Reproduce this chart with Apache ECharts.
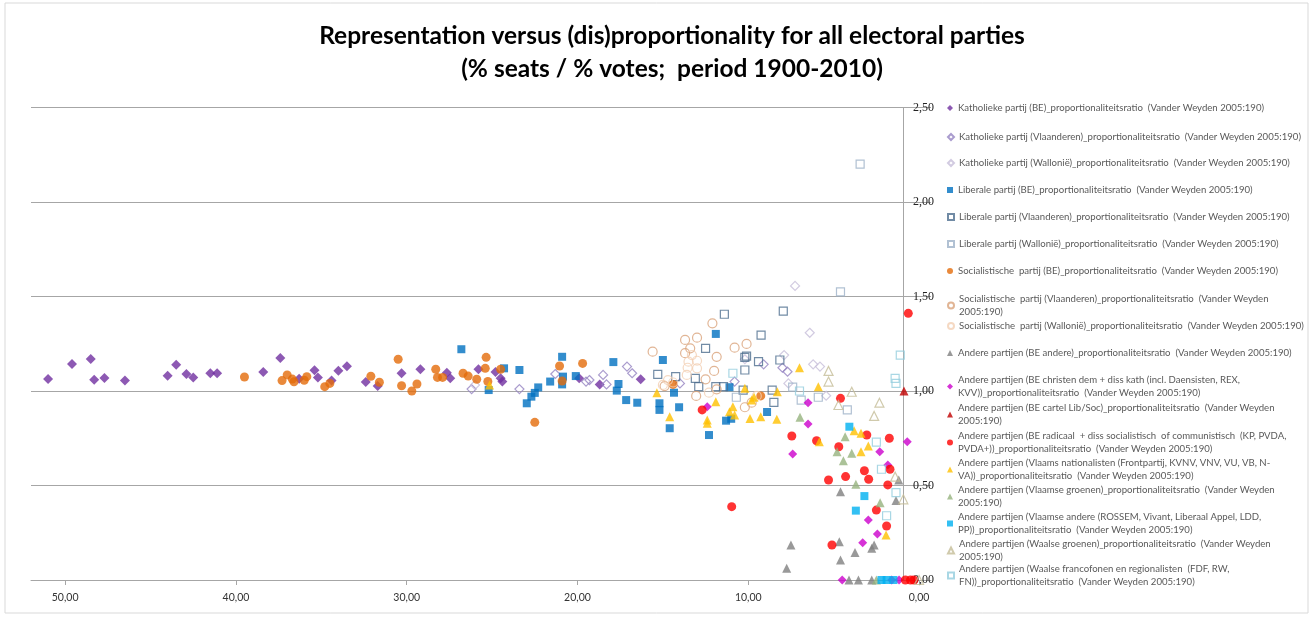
<!DOCTYPE html>
<html>
<head>
<meta charset="utf-8">
<script src="https://cdn.jsdelivr.net/npm/echarts@6/dist/echarts.min.js"></script>
<style>
  html, body { margin: 0; padding: 0; background: #fff; }
  #chart { width: 1314px; height: 617px; }
</style>
</head>
<body>
<div id="chart"></div>
<script>
// x = % votes, y = % seats / % votes
var kathBE = [[51.0,1.064],[49.6,1.143],[48.5,1.169],[48.3,1.060],[47.7,1.069],[46.5,1.056],[44.0,1.081],[43.5,1.139],[42.9,1.090],[42.5,1.072],[41.5,1.094],[41.1,1.094],[38.4,1.100],[37.4,1.175],[36.3,1.065],[35.4,1.110],[35.2,1.072],[34.4,1.056],[34.0,1.107],[33.5,1.131],[32.4,1.048],[31.7,1.026],[30.3,1.094],[29.2,1.115],[27.65,1.097],[27.45,1.067],[25.8,1.115],[24.8,1.100],[24.5,1.067],[24.4,1.050],[19.9,1.067],[18.7,1.035],[16.3,1.062]];
var kathVl = [[26.2,1.010],[23.4,1.010],[21.3,1.090],[19.5,1.050],[19.3,1.058],[18.5,1.085],[18.3,1.035],[17.1,1.129],[16.8,1.094],[14.0,1.040],[10.8,1.050],[9.1,1.141],[8.0,1.123],[7.7,1.102]];
var kathWal = [[26.0,1.032],[10.2,1.168],[7.9,1.190],[7.26,1.556],[6.4,1.308],[6.2,1.141],[5.8,1.129],[5.44,0.975],[7.65,1.040]];
var libBE = [[26.8,1.221],[25.2,1.005],[24.3,1.120],[23.4,1.111],[22.97,0.935],[22.7,0.970],[22.5,0.990],[22.3,1.019],[21.6,1.050],[20.9,1.181],[20.9,1.035],[20.85,1.076],[20.1,1.079],[17.9,1.153],[17.6,1.037],[17.7,1.002],[17.15,0.952],[16.5,0.938],[15.0,1.164],[15.2,0.935],[15.2,0.900],[14.35,0.991],[14.05,0.914],[14.6,0.803],[11.9,1.302],[12.3,0.767],[11.1,1.020],[11.3,0.843],[11.0,0.853],[8.9,0.889]];
var libVl = [[11.4,1.406],[7.95,1.423],[9.25,1.296],[12.5,1.226],[10.2,1.178],[10.1,1.185],[9.4,1.155],[8.15,1.164],[10.2,1.111],[15.3,1.088],[14.25,1.076],[13.1,1.067],[12.9,1.023],[11.9,1.023],[11.45,1.023],[10.3,1.005],[8.6,1.005],[8.5,0.940]];
var libWal = [[3.45,2.20],[4.6,1.525],[7.4,1.020],[6.9,0.952],[5.9,0.967],[4.2,0.900],[10.7,0.967]];
var socBE = [[39.5,1.074],[37.3,1.055],[37.0,1.085],[36.7,1.063],[36.6,1.049],[36.0,1.057],[35.85,1.076],[34.8,1.023],[34.5,1.040],[32.1,1.078],[31.6,1.046],[30.5,1.168],[30.3,1.028],[29.7,1.000],[29.4,1.037],[28.3,1.115],[28.2,1.072],[27.9,1.072],[26.7,1.094],[26.4,1.079],[25.9,1.062],[25.35,1.178],[25.4,1.120],[25.25,1.050],[24.5,1.115],[22.5,0.834],[21.05,1.132],[20.9,1.053],[19.7,1.146],[14.4,1.035],[9.27,0.974]];
var socVl = [[12.1,1.358],[13.7,1.270],[13.0,1.282],[13.4,1.226],[13.7,1.200],[11.85,1.181],[15.6,1.208],[12.0,1.106],[10.8,1.229],[10.1,1.249],[12.5,1.062],[13.05,0.974],[11.85,1.009],[14.9,1.026],[10.2,0.914],[9.8,0.938]];
var socWal = [[13.3,1.190],[13.0,1.160],[13.55,1.123],[13.5,1.155],[13.6,1.085],[12.3,0.991],[14.7,1.058],[9.5,0.974],[15.0,1.032],[13.0,1.120],[14.4,1.045]];
var beAndere = [[7.5,0.185],[7.75,0.062],[4.6,0.467],[4.67,0.203],[4.6,0.106],[3.75,0.145],[2.77,0.168],[2.63,0.185],[1.19,0.529],[1.35,0.420],[4.1,0],[3.55,0],[2.77,0]];
var christenDem = [[6.5,0.938],[6.5,0.825],[0.69,0.732],[12.4,0.917],[7.4,0.667],[2.3,0.679],[1.83,0.608],[2.97,0.317],[2.44,0.243],[3.3,0.197],[4.5,0],[1.17,0],[1.6,0]];
var cartel = [[0.88,1.0]];
var radicaal = [[0.63,1.411],[4.6,0.961],[12.7,0.900],[7.45,0.762],[6.0,0.737],[4.7,0.705],[3.06,0.767],[1.74,0.750],[3.2,0.578],[1.7,0.586],[5.3,0.529],[4.3,0.547],[2.95,0.533],[1.83,0.503],[10.97,0.388],[2.5,0.370],[1.9,0.286],[5.1,0.185],[0.8,0],[0.5,0],[0.3,0]];
var vlNat = [[15.35,0.991],[14.6,0.864],[12.4,0.847],[12.4,0.829],[11.9,0.943],[10.9,0.917],[11.1,0.890],[10.8,0.873],[10.2,1.014],[9.9,0.855],[9.27,0.864],[9.8,0.952],[9.66,0.967],[8.3,0.996],[8.33,0.850],[7.0,1.123],[5.9,1.023],[5.84,0.732],[3.8,0.790],[3.4,0.776],[2.97,0.709],[3.4,0.679],[1.93,0.238],[25.15,1.032]];
var vlGroen = [[6.97,0.861],[4.33,0.758],[4.8,0.679],[4.43,0.631],[3.94,0.670],[3.7,0.506],[2.28,0.409],[2.5,0]];
var vlAndere = [[4.08,0.811],[3.2,0.444],[3.7,0.367],[2.2,0],[1.9,0],[1.5,0]];
var waGroen = [[5.3,1.106],[5.3,1.050],[4.72,0.926],[3.94,0.996],[2.32,0.938],[2.63,0.868],[1.4,0.547],[0.92,0.427],[0.0,0]];
var waFranco = [[1.1,1.190],[1.4,1.067],[1.35,1.040],[2.5,0.730],[2.2,0.586],[1.35,0.462],[1.9,0.340],[10.9,1.094],[7.0,1.000]];

var xTicks = [0, 10, 20, 30, 40, 50];

var names = [
  'Katholieke partij (BE)_proportionaliteitsratio  (Vander Weyden 2005:190)',
  'Katholieke partij (Vlaanderen)_proportionaliteitsratio  (Vander Weyden 2005:190)',
  'Katholieke partij (Wallonië)_proportionaliteitsratio  (Vander Weyden 2005:190)',
  'Liberale partij (BE)_proportionaliteitsratio  (Vander Weyden 2005:190)',
  'Liberale partij (Vlaanderen)_proportionaliteitsratio  (Vander Weyden 2005:190)',
  'Liberale partij (Wallonië)_proportionaliteitsratio  (Vander Weyden 2005:190)',
  'Socialistische  partij (BE)_proportionaliteitsratio  (Vander Weyden 2005:190)',
  'Socialistische  partij (Vlaanderen)_proportionaliteitsratio  (Vander Weyden 2005:190)',
  'Socialistische  partij (Wallonië)_proportionaliteitsratio  (Vander Weyden 2005:190)',
  'Andere partijen (BE andere)_proportionaliteitsratio  (Vander Weyden 2005:190)',
  'Andere partijen (BE christen dem + diss kath (incl. Daensisten, REX, KVV))_proportionaliteitsratio  (Vander Weyden 2005:190)',
  'Andere partijen (BE cartel Lib/Soc)_proportionaliteitsratio  (Vander Weyden 2005:190)',
  'Andere partijen (BE radicaal  + diss socialistisch  of communistisch  (KP, PVDA, PVDA+))_proportionaliteitsratio  (Vander Weyden 2005:190)',
  'Andere partijen (Vlaams nationalisten (Frontpartij, KVNV, VNV, VU, VB, N-VA))_proportionaliteitsratio  (Vander Weyden 2005:190)',
  'Andere partijen (Vlaamse groenen)_proportionaliteitsratio  (Vander Weyden 2005:190)',
  'Andere partijen (Vlaamse andere (ROSSEM, Vivant, Liberaal Appel, LDD, PP))_proportionaliteitsratio  (Vander Weyden 2005:190)',
  'Andere partijen (Waalse groenen)_proportionaliteitsratio  (Vander Weyden 2005:190)',
  'Andere partijen (Waalse francofonen en regionalisten  (FDF, RW, FN))_proportionaliteitsratio  (Vander Weyden 2005:190)'
];

// where each legend entry wraps onto a second line (as in the original)
var wrapBefore = [null, null, null, null, null, null, null, '2005:190)', null, null,
  'KVV))_', '2005:190)', 'PVDA+))_', 'VA))_', '2005:190)', 'PP))_', '2005:190)', 'FN))_'];

var datasets = [kathBE, kathVl, kathWal, libBE, libVl, libWal, socBE, socVl, socWal,
  beAndere, christenDem, cartel, radicaal, vlNat, vlGroen, vlAndere, waGroen, waFranco];

// marker style per series: [symbol, colour, hollow, size]
var markers = [
  ['diamond', '#7030A0', false, 10],
  ['diamond', '#9583C2', true, 9],
  ['diamond', '#C7BEDA', true, 9],
  ['rect', '#0070C0', false, 8],
  ['rect', '#4D6E8E', true, 8],
  ['rect', '#9DB1C8', true, 8],
  ['circle', '#E46C0A', false, 9],
  ['circle', '#D9A27A', true, 9],
  ['circle', '#F2CFB4', true, 9],
  ['triangle', '#7F7F7F', false, 9],
  ['diamond', '#CC00CC', false, 9],
  ['triangle', '#C00000', false, 9],
  ['circle', '#FF0000', false, 9],
  ['triangle', '#FFC000', false, 9],
  ['triangle', '#96B37E', false, 9],
  ['rect', '#00B0F0', false, 8],
  ['triangle', '#C4BD97', true, 9],
  ['rect', '#93CDDD', true, 8]
];

// first line centre of each legend entry
var legendY = [108, 137, 163, 190, 217, 244, 271, 299, 326, 353, 380, 408, 436, 463, 490, 517, 544, 569];

var chart = echarts.init(document.getElementById('chart'));

function comma(v) { return v.toFixed(2).replace('.', ','); }

var series = datasets.map(function (d, i) {
  var m = markers[i];
  return {
    name: names[i],
    type: 'scatter',
    symbol: m[0],
    symbolSize: m[3],
    data: d,
    clip: false,
    itemStyle: m[2]
      ? { color: 'rgba(255,255,255,0)', borderColor: m[1], borderWidth: 1.2 }
      : { color: m[1] }
  };
});

var legends = names.map(function (n, i) {
  var w = wrapBefore[i];
  return {
    data: [n],
    left: 947,
    top: legendY[i] - 6.5,
    orient: 'vertical',
    padding: 0,
    itemWidth: 6,
    itemHeight: 6,
    selectedMode: false,
    formatter: function (name) {
      return w ? name.replace(w, '\n' + w) : name;
    },
    textStyle: {
      fontFamily: 'Lato, sans-serif',
      fontSize: 9.6,
      color: '#595959',
      lineHeight: 13
    }
  };
});

var option = {
  animation: false,
  title: {
    text: 'Representation versus (dis)proportionality for all electoral parties\n(% seats / % votes;  period 1900-2010)',
    left: 672,
    top: 20,
    padding: 0,
    textAlign: 'center',
    textStyle: {
      fontFamily: 'Lato, sans-serif',
      fontWeight: 'bold',
      fontSize: 24.5,
      lineHeight: 33,
      color: '#000'
    }
  },
  legend: legends,
  graphic: [{
    type: 'rect',
    shape: { x: 5, y: 3, width: 1303, height: 610 },
    style: { fill: 'none', stroke: '#D9D9D9', lineWidth: 1 },
    silent: true
  }],
  grid: { left: 31, right: 383, top: 107.5, bottom: 37 },
  xAxis: {
    type: 'value',
    inverse: true,
    min: -0.7,
    max: 52,
    splitLine: { show: false },
    axisLine: { lineStyle: { color: '#A6A6A6' } },
    axisTick: { customValues: xTicks, length: 5, lineStyle: { color: '#A6A6A6' } },
    axisLabel: {
      customValues: xTicks,
      formatter: comma,
      margin: 12,
      fontFamily: 'Lato, sans-serif',
      fontSize: 10.5,
      color: '#333'
    }
  },
  yAxis: {
    type: 'value',
    position: 'right',
    offset: -28,
    min: 0,
    max: 2.5,
    interval: 0.5,
    axisLine: { show: true, onZero: false, lineStyle: { color: '#A6A6A6' } },
    axisTick: { show: true, length: 8, lineStyle: { color: '#A6A6A6' } },
    splitLine: { show: true, lineStyle: { color: '#A6A6A6' } },
    axisLabel: {
      formatter: comma,
      margin: 10,
      fontFamily: '"Liberation Serif", serif',
      fontSize: 12,
      color: '#222'
    }
  },
  series: series
};

chart.setOption(option);
</script>
</body>
</html>
